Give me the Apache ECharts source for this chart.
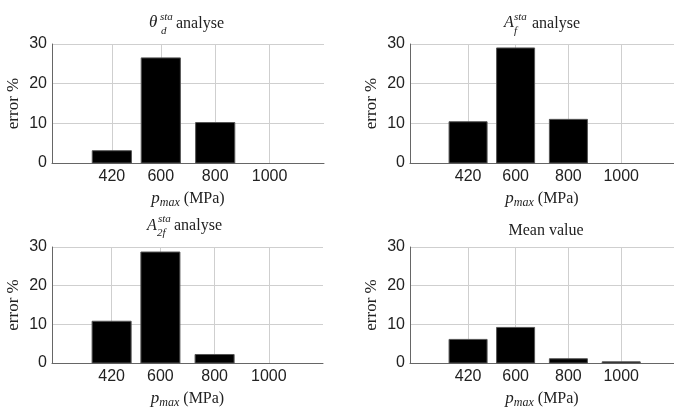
<!DOCTYPE html>
<html>
<head>
<meta charset="utf-8">
<script src="https://cdn.jsdelivr.net/npm/echarts@6/dist/echarts.min.js"></script>
<style>
  html, body { margin: 0; padding: 0; background: #fff; }
  #main { width: 674px; height: 410px; }
</style>
</head>
<body>
<div id="main"></div>
<script>
// pressure levels (MPa) and error % per analyse
var pressures = [420, 600, 800, 1000];
var thetaD = [3.1, 26.5, 10.2, 0];
var aF = [10.4, 29.0, 11.0, 0];
var a2F = [10.8, 28.7, 2.2, 0];
var meanVal = [6.1, 9.2, 1.1, 0.3];
var yTicks = [0, 10, 20, 30];

var panels = [thetaD, aF, a2F, meanVal];
var grids = [
  { left: 52, right: 350, top: 44, bottom: 247 },
  { left: 410, right: -8, top: 44, bottom: 247 },
  { left: 52, right: 351, top: 247, bottom: 45 },
  { left: 410, right: -8, top: 247, bottom: 46 }
];

var serif = "Liberation Serif";
var sans = "Liberation Sans";
var barHalf = 72; // MATLAB bar width 0.8 * 180

var chart = echarts.init(document.getElementById("main"));

var xAxes = [], yAxes = [], series = [];
panels.forEach(function (vals, i) {
  xAxes.push({
    type: "value",
    gridIndex: i,
    min: 200,
    max: 1200,
    name: "{p|p}{s|max}{n| (MPa)}",
    nameLocation: "middle",
    nameGap: 25,
    nameTextStyle: {
      rich: {
        p: { fontFamily: serif, fontStyle: "italic", fontSize: 17, color: "#222" },
        s: { fontFamily: serif, fontStyle: "italic", fontSize: 12, color: "#222", padding: [9, 0, 0, 0] },
        n: { fontFamily: serif, fontSize: 16, color: "#222" }
      }
    },
    axisLine: { show: true, lineStyle: { color: "#666", width: 1 } },
    axisTick: { show: false, customValues: pressures },
    axisLabel: {
      customValues: pressures,
      formatter: function (v) { return String(v); },
      fontFamily: sans, fontSize: 16, color: "#222", margin: 6
    },
    splitLine: { show: false }
  });
  yAxes.push({
    type: "value",
    gridIndex: i,
    min: yTicks[0],
    max: yTicks[yTicks.length - 1],
    interval: 10,
    name: "error %",
    nameLocation: "middle",
    nameRotate: 90,
    nameGap: 30,
    nameTextStyle: { fontFamily: serif, fontSize: 17, color: "#222" },
    axisLine: { show: true, lineStyle: { color: "#666", width: 1 } },
    axisTick: { show: false },
    axisLabel: { fontFamily: sans, fontSize: 16, color: "#222", margin: 5 },
    splitLine: { show: true, lineStyle: { color: "#cfcfcf", width: 1 } }
  });
  series.push({
    type: "custom",
    xAxisIndex: i,
    yAxisIndex: i,
    data: pressures.map(function (p, k) { return [p, vals[k]]; }),
    renderItem: function (params, api) {
      var x = api.value(0), y = api.value(1);
      if (!y) return null;
      var p0 = api.coord([x - barHalf, y]);
      var p1 = api.coord([x + barHalf, 0]);
      return {
        type: "rect",
        shape: { x: p0[0], y: p0[1], width: p1[0] - p0[0], height: p1[1] - p0[1] },
        style: { fill: "#000", stroke: "#555", lineWidth: 1 }
      };
    },
    markLine: {
      silent: true,
      symbol: "none",
      label: { show: false },
      lineStyle: { color: "#cfcfcf", width: 1, type: "solid" },
      data: pressures.map(function (p) { return { xAxis: p }; }),
      z: 0
    },
    z: 3
  });
});

function txt(x, y, s, size, italic, align) {
  return {
    type: "text",
    x: x,
    y: y,
    style: {
      text: s,
      fontFamily: serif,
      fontSize: size,
      fontStyle: italic ? "italic" : "normal",
      fill: "#222",
      align: align || "left",
      verticalAlign: "middle"
    }
  };
}

var graphics = [
  // theta_d^sta analyse
  txt(149, 23, "θ", 17, true),
  txt(160, 17, "sta", 11, true),
  txt(161, 31, "d", 11, true),
  txt(176, 24, "analyse", 16, false),
  // A_f^sta analyse
  txt(504, 23, "A", 16, true),
  txt(514, 17, "sta", 11, true),
  txt(514, 31, "f", 11, true),
  txt(532, 24, "analyse", 16, false),
  // A_2f^sta analyse
  txt(147, 226, "A", 16, true),
  txt(158, 219, "sta", 11, true),
  txt(157, 233, "2f", 11, true),
  txt(174, 226, "analyse", 16, false),
  // Mean value
  txt(546, 231, "Mean value", 16, false, "center")
];

chart.setOption({
  animation: false,
  backgroundColor: "#fff",
  grid: grids,
  xAxis: xAxes,
  yAxis: yAxes,
  series: series,
  graphic: graphics
});
</script>
</body>
</html>
